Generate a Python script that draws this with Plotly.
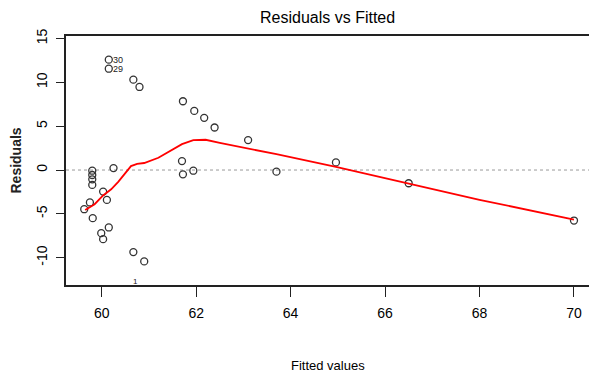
import plotly.graph_objects as go

# Observed points (fitted, residual)
fitted = [59.8, 59.8, 59.8, 59.8, 60.25, 60.03, 60.11, 59.75, 59.63, 59.81, 59.99, 60.03, 60.15,
          60.67, 60.9, 61.7, 61.72, 61.94, 60.15, 60.15, 60.67, 60.8, 61.72, 61.96, 62.17, 62.39,
          63.1, 63.7, 64.96, 66.5, 70.0]
resid = [-0.08, -0.57, -1.06, -1.7, 0.22, -2.46, -3.41, -3.7, -4.47, -5.49, -7.2, -7.88, -6.55,
         -9.36, -10.42, 1.02, -0.49, -0.08, 12.58, 11.55, 10.3, 9.47, 7.84, 6.74, 5.95, 4.85,
         3.41, -0.19, 0.87, -1.51, -5.76]

# Smoother (lowess) line
smooth_x = [59.65, 59.85, 60.03, 60.2, 60.35, 60.5, 60.62, 60.75, 60.9, 61.2, 61.5, 61.7, 61.94,
            62.2, 62.5, 63.07, 63.7, 64.96, 66.48, 68.0, 70.0]
smooth_y = [-4.55, -3.9, -2.9, -2.2, -1.35, -0.3, 0.45, 0.7, 0.8, 1.4, 2.3, 2.95, 3.4,
            3.45, 3.1, 2.5, 1.8, 0.35, -1.55, -3.4, -5.65]

# Labelled observations
lab_text = ["30", "29", "1"]
lab_x = [60.15, 60.15, 60.72]
lab_y = [12.58, 11.55, -12.7]

x_ticks = [60, 62, 64, 66, 68, 70]
y_ticks = [-10, -5, 0, 5, 10, 15]

FONT = "Liberation Sans Narrow, Arial Narrow, Liberation Sans, sans-serif"

fig = go.Figure()
fig.add_trace(go.Scatter(x=fitted, y=resid, mode="markers",
                         marker=dict(symbol="circle-open", size=7, color="#333333",
                                     line=dict(width=1.3, color="#333333")),
                         hoverinfo="skip", cliponaxis=False))
fig.add_trace(go.Scatter(x=smooth_x, y=smooth_y, mode="lines",
                         line=dict(color="red", width=1.8), hoverinfo="skip"))

fig.add_shape(type="line", xref="paper", yref="y", x0=0, x1=1, y0=0, y1=0,
              line=dict(color="#999999", width=1, dash="dot"), layer="below")

for t, x, y in zip(lab_text[:2], lab_x[:2], lab_y[:2]):
    fig.add_annotation(x=x, y=y, text=t, showarrow=False, xanchor="left", xshift=2,
                       font=dict(family=FONT, size=9, color="#222222"))
fig.add_annotation(x=lab_x[2], y=lab_y[2], text=lab_text[2], showarrow=False,
                   font=dict(family=FONT, size=8, color="#222222"))

fig.add_annotation(text="Residuals vs Fitted", xref="paper", yref="paper", x=0.5, y=1,
                   yshift=19, showarrow=False, yanchor="middle",
                   font=dict(family=FONT, size=16, color="black"))
fig.add_annotation(text="Fitted values", xref="paper", yref="paper", x=0.5, y=0,
                   yshift=-80, showarrow=False, yanchor="middle",
                   font=dict(family=FONT, size=13, color="black"))
fig.add_annotation(text="<b>Residuals</b>", xref="paper", yref="paper", x=0, y=0.5,
                   xshift=-51, showarrow=False, xanchor="center", textangle=-90,
                   font=dict(family=FONT, size=14, color="#222222"))

fig.update_layout(
    width=589, height=375,
    margin=dict(l=66, r=0, t=36, b=90),
    paper_bgcolor="white", plot_bgcolor="white",
    showlegend=False,
    xaxis=dict(range=[59.244, 70.318], tickvals=x_ticks, ticktext=[str(v) for v in x_ticks],
               showgrid=False, zeroline=False, showline=True, mirror=True,
               linecolor="#222222", linewidth=1.6,
               ticks="outside", ticklen=10, tickwidth=1, tickcolor="#222222",
               ticklabelstandoff=4,
               tickfont=dict(family=FONT, size=14, color="black")),
    yaxis=dict(range=[-13.11, 15.28], tickvals=y_ticks, ticktext=[str(v) for v in y_ticks],
               showgrid=False, zeroline=False, showline=True, mirror=False,
               linecolor="#222222", linewidth=1.6,
               ticks="outside", ticklen=8, tickwidth=1, tickcolor="#222222",
               tickangle=-90, ticklabelstandoff=4,
               tickfont=dict(family=FONT, size=14, color="black")),
)

fig.write_html("out.html")
